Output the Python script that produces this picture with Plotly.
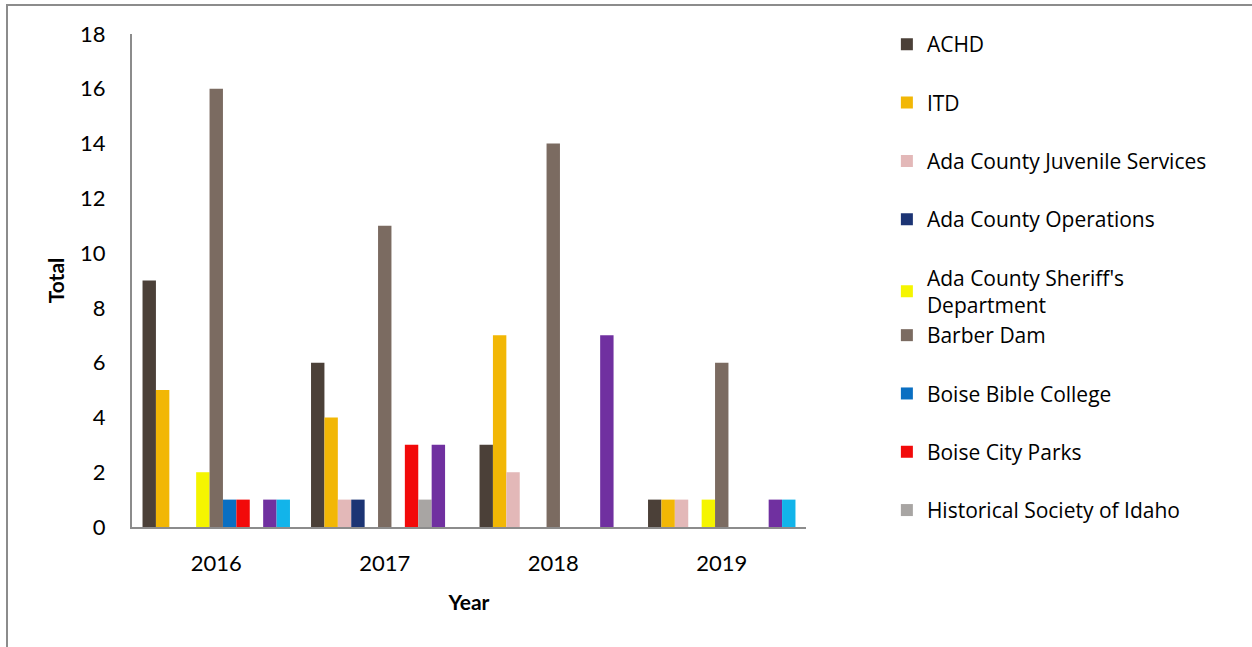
import plotly.graph_objects as go

years = ["2016", "2017", "2018", "2019"]

achd = [9, 6, 3, 1]
itd = [5, 4, 7, 1]
juvenile = [0, 1, 2, 1]
operations = [0, 1, 0, 0]
sheriff = [2, 0, 0, 1]
barber_dam = [16, 11, 14, 6]
bible_college = [1, 0, 0, 0]
city_parks = [1, 3, 0, 0]
historical = [0, 1, 0, 0]
purple_series = [1, 3, 7, 1]
cyan_series = [1, 0, 0, 1]

series = [
    ("ACHD", achd, "#4b4038", "legend"),
    ("ITD", itd, "#f2b705", "legend"),
    ("Ada County Juvenile Services", juvenile, "#e3b8b8", "legend"),
    ("Ada County Operations", operations, "#1c3474", "legend"),
    ("Ada County Sheriff's<br>Department", sheriff, "#f5f500", "legend"),
    ("Barber Dam", barber_dam, "#7b6b61", "legend2"),
    ("Boise Bible College", bible_college, "#0a6fc2", "legend2"),
    ("Boise City Parks", city_parks, "#f20a0a", "legend2"),
    ("Historical Society of Idaho", historical, "#a8a5a3", "legend2"),
    ("Other (purple)", purple_series, "#7030a0", None),
    ("Other (cyan)", cyan_series, "#12b4ea", None),
]

fig = go.Figure()
for i, (name, vals, color, leg) in enumerate(series):
    kw = dict(showlegend=False) if leg is None else dict(legend=leg)
    fig.add_trace(go.Bar(
        x=years, y=vals, name=name,
        marker=dict(color=color, line=dict(width=0)),
        legendgroup=f"g{i}", **kw,
    ))

fontfam = "Lato, 'Open Sans', Arial, sans-serif"
legfont = dict(family="'Open Sans', Lato, sans-serif", size=21, color="black")
legcommon = dict(
    x=1.12, xanchor="left", yanchor="top", font=legfont,
    tracegroupgap=28, traceorder="grouped", bgcolor="rgba(0,0,0,0)",
)

fig.update_layout(
    width=1252, height=647,
    barmode="group", bargap=0.125, bargroupgap=0,
    plot_bgcolor="white", paper_bgcolor="white",
    margin=dict(l=132, r=446, t=34, b=120),
    font=dict(family=fontfam, size=22, color="black"),
    xaxis=dict(
        title=dict(text="<b>Year</b>", font=dict(size=21), standoff=20),
        showline=True, linecolor="#8c8c8c", linewidth=2,
        ticks="", showgrid=False, tickfont=dict(size=22), ticklabelstandoff=16,
    ),
    yaxis=dict(
        title=dict(text="<b>Total</b>", font=dict(size=21), standoff=10),
        range=[0, 18], dtick=2, showline=True, linecolor="#8c8c8c", linewidth=2,
        ticks="", showgrid=False, zeroline=False, tickfont=dict(size=22),
        ticklabelstandoff=20,
    ),
    legend=dict(y=1.02, **legcommon),
    legend2=dict(y=0.43, **legcommon),
    shapes=[dict(
        type="rect", xref="paper", yref="paper",
        x0=(7 - 132) / 674, x1=(1300 - 132) / 674,
        y0=(527 - 700) / 493, y1=(527 - 5) / 493,
        line=dict(color="#8c8c8c", width=2), fillcolor="rgba(0,0,0,0)", layer="below",
    )],
)

fig.write_html("out.html")
